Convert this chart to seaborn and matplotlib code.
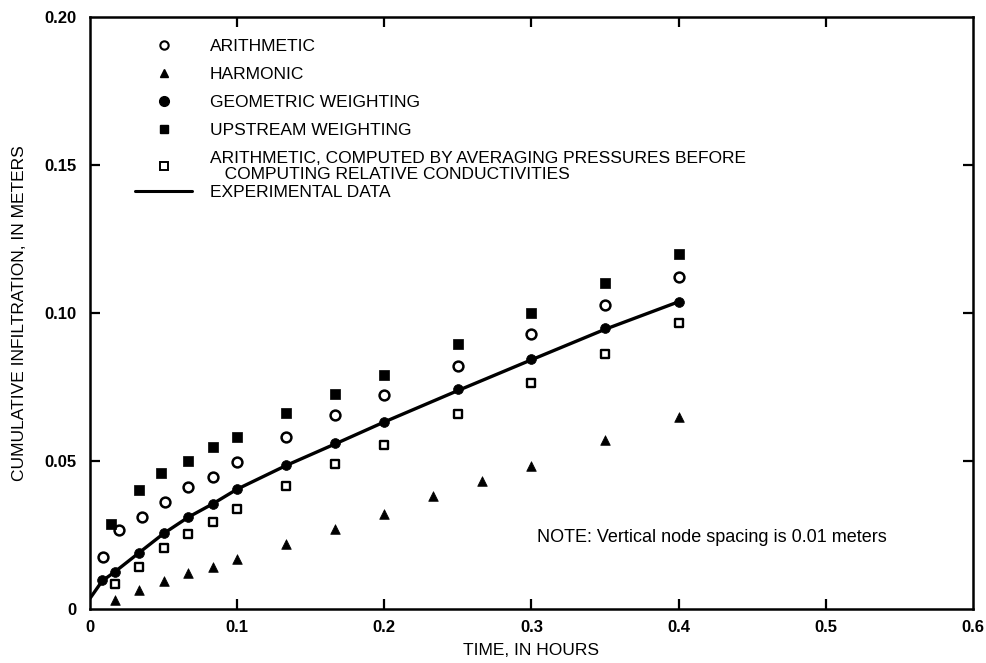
import matplotlib
matplotlib.use("Agg")
import matplotlib.pyplot as plt
import seaborn as sns
from matplotlib.lines import Line2D
from matplotlib.legend_handler import HandlerLine2D

# ---- data ----
geom_t = [0.008, 0.0167, 0.0333, 0.05, 0.0667, 0.0833, 0.1, 0.1333, 0.1667, 0.2, 0.25, 0.3, 0.35, 0.4]
geom_v = [0.0098, 0.0124, 0.019, 0.0258, 0.0312, 0.0355, 0.0407, 0.0488, 0.056, 0.0633, 0.0742, 0.0845, 0.0948, 0.1038]

arith_t = [0.009, 0.020, 0.035, 0.051, 0.0667, 0.0833, 0.1, 0.1333, 0.1667, 0.2, 0.25, 0.3, 0.35, 0.4]
arith_v = [0.0177, 0.0267, 0.0312, 0.0363, 0.0411, 0.0447, 0.0497, 0.058, 0.0657, 0.0723, 0.0822, 0.0928, 0.1027, 0.1123]

up_t = [0.0143, 0.0333, 0.0483, 0.0667, 0.0833, 0.1, 0.1333, 0.1667, 0.2, 0.25, 0.3, 0.35, 0.4]
up_v = [0.0287, 0.0402, 0.046, 0.05, 0.0546, 0.058, 0.0661, 0.0726, 0.079, 0.0894, 0.1001, 0.110, 0.1198]

press_t = [0.0167, 0.0333, 0.05, 0.0667, 0.0833, 0.1, 0.1333, 0.1667, 0.2, 0.25, 0.3, 0.35, 0.4]
press_v = [0.0084, 0.0143, 0.0205, 0.0253, 0.0295, 0.0338, 0.0416, 0.0489, 0.0553, 0.0659, 0.0765, 0.0861, 0.0965]

harm_t = [0.0167, 0.0333, 0.05, 0.0667, 0.0833, 0.1, 0.1333, 0.1667, 0.2, 0.2333, 0.2667, 0.3, 0.35, 0.4]
harm_v = [0.003, 0.0064, 0.0095, 0.0123, 0.0141, 0.0168, 0.022, 0.0271, 0.0321, 0.0382, 0.0431, 0.0483, 0.0571, 0.0648]

exp_t = [0, 0.0083, 0.0167, 0.0333, 0.05, 0.0667, 0.0833, 0.1, 0.1333, 0.1667, 0.2, 0.25, 0.3, 0.35, 0.4]
exp_v = [0.0036, 0.0095, 0.0125, 0.019, 0.0255, 0.031, 0.0355, 0.0405, 0.0485, 0.0558, 0.0632, 0.0738, 0.0842, 0.0945, 0.1038]

x_ticks = [0, 0.1, 0.2, 0.3, 0.4, 0.5, 0.6]
x_labels = ["0", "0.1", "0.2", "0.3", "0.4", "0.5", "0.6"]
y_ticks = [0, 0.05, 0.10, 0.15, 0.20]
y_labels = ["0", "0.05", "0.10", "0.15", "0.20"]

labels = ["ARITHMETIC", "HARMONIC", "GEOMETRIC WEIGHTING", "UPSTREAM WEIGHTING",
          "ARITHMETIC, COMPUTED BY AVERAGING PRESSURES BEFORE\n   COMPUTING RELATIVE CONDUCTIVITIES",
          "EXPERIMENTAL DATA"]
note = "NOTE: Vertical node spacing is 0.01 meters"

# ---- style ----
sns.set_style("ticks")
plt.rcParams["font.family"] = ["Liberation Sans", "DejaVu Sans"]
plt.rcParams["text.color"] = "black"
plt.rcParams["axes.labelcolor"] = "black"
plt.rcParams["xtick.color"] = "black"
plt.rcParams["ytick.color"] = "black"
FS = 12.5

fig = plt.figure(figsize=(9.87, 6.63), dpi=100)
ax = fig.add_axes([0.0912, 0.0814, 0.8946, 0.893])

sns.lineplot(x=exp_t, y=exp_v, ax=ax, color="black", linewidth=2.4, zorder=2)
kw = dict(ax=ax, zorder=3, legend=False)
sns.scatterplot(x=arith_t, y=arith_v, marker="o", s=50, facecolor="white", edgecolor="black", linewidth=1.8, **kw)
sns.scatterplot(x=harm_t, y=harm_v, marker="^", s=48, color="black", edgecolor="black", linewidth=0.5, **kw)
sns.scatterplot(x=geom_t, y=geom_v, marker="o", s=50, color="black", edgecolor="black", linewidth=0.5, **kw)
sns.scatterplot(x=up_t, y=up_v, marker="s", s=44, color="black", edgecolor="black", linewidth=0.5, **kw)
sns.scatterplot(x=press_t, y=press_v, marker="s", s=36, facecolor="white", edgecolor="black", linewidth=1.7, **kw)

ax.set_xlim(0, 0.6)
ax.set_ylim(0, 0.20)
ax.set_xticks(x_ticks)
ax.set_xticklabels(x_labels)
ax.set_yticks(y_ticks)
ax.set_yticklabels(y_labels)
ax.tick_params(direction="in", length=7.5, width=1.6, top=True, right=True,
               labelsize=12, colors="black")
ax.tick_params(axis="x", pad=8)
ax.tick_params(axis="y", pad=10)
for lab in ax.get_xticklabels() + ax.get_yticklabels():
    lab.set_fontweight("bold")
for t in ax.xaxis.get_major_ticks():
    if t.get_loc() in (0, 0.6):
        t.tick1line.set_visible(False)
        t.tick2line.set_visible(False)
for t in ax.yaxis.get_major_ticks():
    if t.get_loc() in (0, 0.20):
        t.tick1line.set_visible(False)
        t.tick2line.set_visible(False)

for sp in ax.spines.values():
    sp.set_linewidth(1.8)
    sp.set_color("black")

ax.set_xlabel("TIME, IN HOURS", fontsize=FS, labelpad=6)
ax.set_ylabel("CUMULATIVE INFILTRATION, IN METERS", fontsize=FS, labelpad=12)

ax.text(0.304, 0.024, note, fontsize=13, ha="left", va="center")


class LeftMarker(HandlerLine2D):
    def get_xdata(self, legend, xdescent, ydescent, width, height, fontsize):
        xd, _ = super().get_xdata(legend, xdescent, ydescent, width, height, fontsize)
        return xd, [-xdescent + width * 0.23]


handles = [
    Line2D([], [], marker="o", ls="", mfc="white", mec="black", mew=1.5, ms=6),
    Line2D([], [], marker="^", ls="", color="black", ms=6),
    Line2D([], [], marker="o", ls="", color="black", ms=7),
    Line2D([], [], marker="s", ls="", color="black", ms=6),
    Line2D([], [], marker="s", ls="", mfc="white", mec="black", mew=1.4, ms=5.5),
    Line2D([], [], color="black", lw=2.2),
]
hmap = {h: LeftMarker() for h in handles[:5]}
leg_opts = dict(frameon=False, fontsize=FS, handlelength=3.3, handletextpad=1.0,
                labelspacing=0.74, borderaxespad=0, borderpad=0)
leg = ax.legend(handles[:5], labels[:5], loc="upper left", bbox_to_anchor=(0.051, 0.9635),
                handler_map=hmap, **leg_opts)
for t in leg.get_texts():
    t.set_linespacing(1.1)
    t.set_color("black")
ax.add_artist(leg)
leg2 = ax.legend(handles[5:], labels[5:], loc="center left", bbox_to_anchor=(0.051, 0.703),
                 **leg_opts)
for t in leg2.get_texts():
    t.set_color("black")

fig.savefig("out.png", dpi=100)
